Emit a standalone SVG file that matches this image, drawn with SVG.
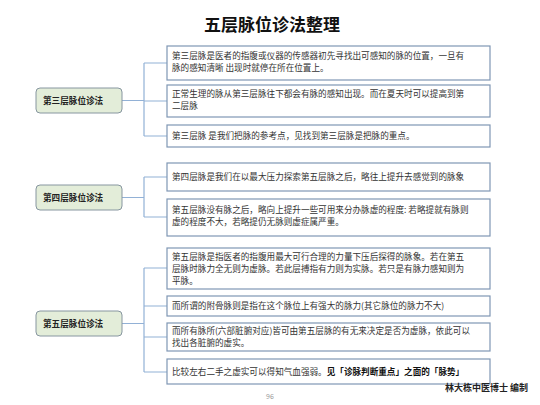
<svg xmlns="http://www.w3.org/2000/svg" width="540" height="405" viewBox="0 0 540 405">
<style>
.bg{fill:#ffffff}
.title{font-family:"Noto Sans CJK SC","Liberation Serif",serif;font-size:17px;font-weight:bold;fill:#111}
.node rect{fill:#e3edd9;stroke:#8796a0;stroke-width:1}
.node text{font-family:"Noto Sans CJK SC","Liberation Serif",serif;font-size:8.6px;font-weight:bold;fill:#222}
.box rect{fill:#ffffff;stroke:#7f97b4;stroke-width:1.2}
.box text{font-family:"Noto Sans CJK SC","Liberation Serif",serif;font-size:8.6px;fill:#333}
.b{font-weight:bold;fill:#111}
.conn path{fill:none;stroke:#92b1d6;stroke-width:1.2}
.foot{font-family:"Noto Sans CJK SC","Liberation Serif",serif}
</style>
<rect class="bg" x="0" y="0" width="540" height="405"/>
<text class="title" x="272" y="31" text-anchor="middle">五层脉位诊法整理</text>

<g id="connectors" class="conn">
<path d="M122,100.5 H144 M144,63 V136 M144,63 H167 M144,101 H167 M144,136 H167"/>
<path d="M122,197.5 H144 M144,177 V217 M144,177 H167 M144,217 H167"/>
<path d="M122,323.5 H144 M144,268 V372 M144,268 H167 M144,306 H167 M144,337 H167 M144,372 H167"/>
</g>

<g id="node-3" class="node"><rect x="36" y="88" width="86" height="25" rx="4"/><text x="43" y="104">第三层脉位诊法</text></g>
<g id="node-4" class="node"><rect x="36" y="185" width="86" height="25" rx="4"/><text x="43" y="201">第四层脉位诊法</text></g>
<g id="node-5" class="node"><rect x="36" y="311" width="86" height="25" rx="4"/><text x="43" y="327">第五层脉位诊法</text></g>

<g id="box-1" class="box"><rect x="167" y="46" width="323" height="34"/>
<text x="172" y="59">第三层脉是医者的指腹或仪器的传感器初先寻找出可感知的脉的位置，一旦有</text>
<text x="172" y="71">脉的感知清晰 出现时就停在所在位置上。</text></g>
<g id="box-2" class="box"><rect x="167" y="85" width="323" height="32"/>
<text x="172" y="97">正常生理的脉从第三层脉往下都会有脉的感知出现。而在夏天时可以提高到第</text>
<text x="172" y="109">二层脉</text></g>
<g id="box-3" class="box"><rect x="167" y="125" width="323" height="22"/>
<text x="172" y="139">第三层脉 是我们把脉的参考点，见找到第三层脉是把脉的重点。</text></g>

<g id="box-4" class="box"><rect x="167" y="163" width="323" height="28"/>
<text x="172" y="180">第四层脉是我们在以最大压力探索第五层脉之后，略往上提升去感觉到的脉象</text></g>
<g id="box-5" class="box"><rect x="167" y="199" width="323" height="37"/>
<text x="172" y="213">第五层脉没有脉之后，略向上提升一些可用来分办脉虚的程度: 若略提就有脉则</text>
<text x="172" y="225">虚的程度不大，若略提仍无脉则虚症属严重。</text></g>

<g id="box-6" class="box"><rect x="167" y="248" width="323" height="41"/>
<text x="172" y="260">第五层脉是指医者的指腹用最大可行合理的力量下压后探得的脉象。若在第五</text>
<text x="172" y="272">层脉时脉力全无则为虚脉。若此层搏指有力则为实脉。若只是有脉力感知则为</text>
<text x="172" y="284">平脉。</text></g>
<g id="box-7" class="box"><rect x="167" y="296" width="323" height="20"/>
<text x="172" y="309">而所谓的附骨脉则是指在这个脉位上有强大的脉力(其它脉位的脉力不大)</text></g>
<g id="box-8" class="box"><rect x="167" y="323" width="323" height="28"/>
<text x="172" y="334">而所有脉所(六部脏腑对应)皆可由第五层脉的有无来决定是否为虚脉，依此可以</text>
<text x="172" y="346">找出各脏腑的虚实。</text></g>
<g id="box-9" class="box"><rect x="167" y="359" width="323" height="25"/>
<text x="172" y="375">比较左右二手之虚实可以得知气血强弱。<tspan class="b">见「诊脉判断重点」之面的「脉势」</tspan></text></g>

<text class="foot" x="270" y="399" text-anchor="middle" font-size="7" fill="#999">96</text>
<text class="foot" x="528" y="391" text-anchor="end" font-size="9" font-weight="bold" fill="#222">林大栋中医博士 编制</text>
</svg>
